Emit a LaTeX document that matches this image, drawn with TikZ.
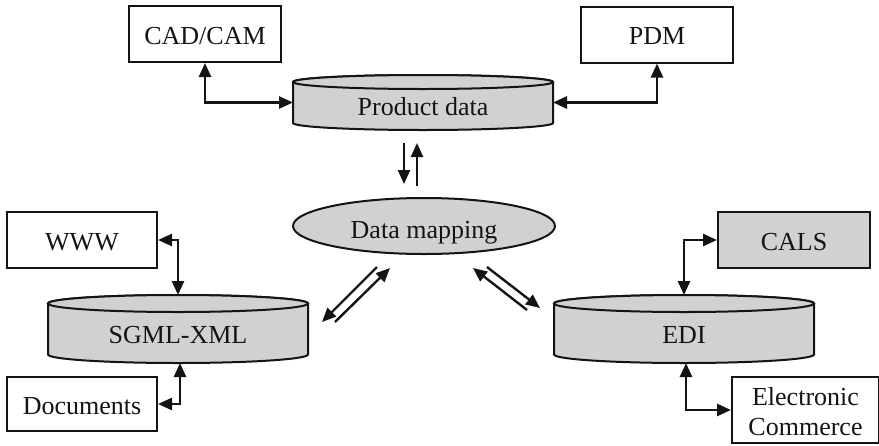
\documentclass[tikz,border=0pt]{standalone}
\usepackage{fontspec}
\setmainfont{Liberation Serif}
\usetikzlibrary{arrows.meta,shapes.geometric,backgrounds}

\definecolor{shade}{gray}{0.82}
\definecolor{ink}{gray}{0.08}

% cylinder outline drawn behind a drum node: #1 node name, #2 end-ellipse y radius
\newcommand\drumbody[2]{%
  \begin{scope}[on background layer]
    \path[drumline] ([yshift=-#2]#1.north west) -- ([yshift=#2]#1.south west)
      arc[start angle=180,end angle=360,x radius=130pt,y radius=#2]
      -- ([yshift=-#2]#1.north east)
      arc[start angle=0,end angle=180,x radius=130pt,y radius=#2] -- cycle;
    \path[drumline] ([yshift=-#2]#1.north) ellipse[x radius=130pt,y radius=#2];
  \end{scope}}

\begin{document}
\begin{tikzpicture}[x=1pt,y=1pt,
  every node/.style={font=\fontsize{26}{30}\selectfont, text=ink},
  box/.style={draw=ink, line width=2pt, rectangle, inner sep=0pt,
    minimum width=152pt, minimum height=56pt, text height=20pt, text depth=0pt},
  greybox/.style={box, fill=shade},
  drum/.style={rectangle, inner sep=0pt, outer sep=0pt, minimum width=260pt},
  drumline/.style={draw=ink, line width=2pt, fill=shade},
  link/.style={draw=ink, line width=2.6pt, {Triangle[length=14pt,width=12pt]}-{Triangle[length=14pt,width=12pt]}},
  oneway/.style={draw=ink, line width=2.4pt, -{Triangle[length=14pt,width=12pt]}},
]
\useasboundingbox (0,0) rectangle (879,-445);

% boxes and stores
\node[box] (cad) at (205,-34) {CAD/CAM};
\node[box] (pdm) at (657,-34.5) {PDM};
\node[drum, minimum height=55pt, text height=25pt, text depth=0pt] (pd) at (423,-102.5) {Product data};
\node[ellipse, draw=ink, line width=2pt, fill=shade, inner sep=0pt,
  minimum width=262pt, minimum height=56pt, text height=24pt, text depth=0pt] (map) at (424,-226) {Data mapping};
\node[box, minimum width=150pt] (www) at (82,-240) {WWW};
\node[drum, minimum height=68pt, text height=28pt, text depth=0pt] (sgml) at (178,-329) {SGML-XML};
\node[box, minimum width=150pt, minimum height=54pt] (docs) at (82,-404) {Documents};
\node[drum, minimum height=68pt, text height=28pt, text depth=0pt] (edi) at (684,-329) {EDI};
\node[greybox] (cals) at (794,-240) {CALS};
\node[draw=ink, line width=2pt, inner sep=0pt, minimum width=147pt,
  minimum height=66pt, align=center] (ec) at (805.5,-410) {\rule{0pt}{22pt}Electronic\\Commerce};

\drumbody{pd}{7pt}
\drumbody{sgml}{8.5pt}
\drumbody{edi}{8.5pt}

% elbow links
\draw[link] (cad.south) |- (pd.west);
\draw[link] (pdm.south) |- (pd.east);
\draw[link] (www.east) -| (sgml.north);
\draw[link] (docs.east) -| ([xshift=2pt]sgml.south);
\draw[link] (cals.west) -| (edi.north);
\draw[link] (ec.west) -| ([xshift=2pt]edi.south);

% paired one-way arrows around the mapping
\coordinate (dnA) at (404,-143); \coordinate (dnB) at (404,-184);
\coordinate (upA) at (417,-186); \coordinate (upB) at (417,-143);
\draw[oneway] (dnA) -- (dnB);
\draw[oneway] (upA) -- (upB);

\coordinate (lA) at (377,-267); \coordinate (lB) at (322,-322);
\coordinate (lC) at (335,-322); \coordinate (lD) at (390,-268);
\draw[oneway] (lA) -- (lB);
\draw[oneway] (lC) -- (lD);

\coordinate (rA) at (527,-310); \coordinate (rB) at (473,-268);
\coordinate (rC) at (487,-267); \coordinate (rD) at (540,-308);
\draw[oneway] (rA) -- (rB);
\draw[oneway] (rC) -- (rD);
\end{tikzpicture}
\end{document}
